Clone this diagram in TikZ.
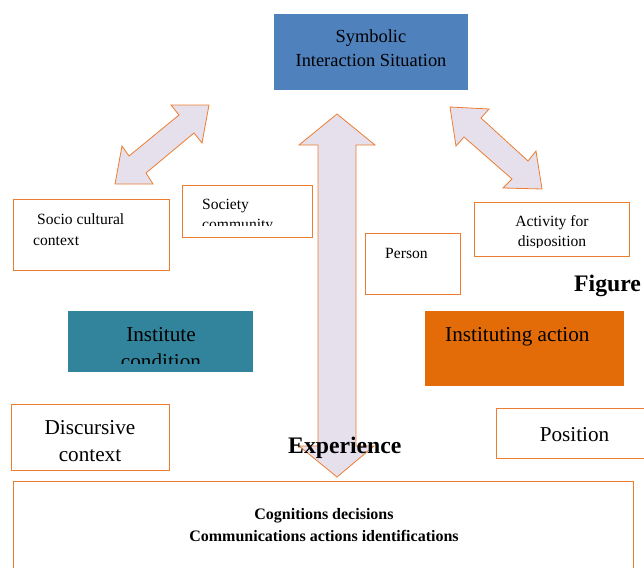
\documentclass[tikz,border=0pt]{standalone}
\usepackage{fontspec}
\setmainfont{Liberation Serif}
\definecolor{orl}{HTML}{ED7D31}
\definecolor{lav}{HTML}{E5E0EC}
\definecolor{sblue}{HTML}{4F81BD}
\definecolor{tealb}{HTML}{31849B}
\definecolor{oranb}{HTML}{E36C09}
\begin{document}
\begin{tikzpicture}[x=1pt,y=-1pt,
  obox/.style={draw=orl,line width=0.8pt,fill=white,inner sep=0pt,anchor=north west},
  fbox/.style={inner sep=0pt,anchor=north west},
  blockarrow/.style={draw=orl,line width=0.8pt,fill=lav,line join=miter},
  smalltxt/.style={font=\fontsize{15.6}{20}\selectfont,inner sep=0pt},
  midtxt/.style={font=\fontsize{18.4}{24}\selectfont,inner sep=0pt},
  bigtxt/.style={font=\fontsize{21.2}{27}\selectfont,inner sep=0pt},
  boldtxt/.style={font=\bfseries\fontsize{16}{22}\selectfont,inner sep=0pt},
  headtxt/.style={font=\bfseries\fontsize{23.7}{28}\selectfont,inner sep=0pt}]
\useasboundingbox (0,0) rectangle (644,567);
\begin{scope}
\clip (0,0) rectangle (644,567);
% block arrows
\draw[blockarrow] (209,105) -- (171,105) -- (179,115) -- (129,156) -- (122,146) -- (115,184) -- (153,184) -- (146,173) -- (194,133) -- (202,143) -- cycle;
\draw[blockarrow] (450,107) -- (489,109) -- (481,118) -- (528,161) -- (536,151) -- (542,189) -- (503,188) -- (512,179) -- (464,137) -- (456,146) -- cycle;
\draw[blockarrow] (337,114) -- (375,145) -- (356,145) -- (356,446) -- (374,446) -- (337,477) -- (299,446) -- (318,446) -- (318,145) -- (299,145) -- cycle;

% Symbolic Interaction Situation
\node[fbox,fill=sblue,minimum width=194pt,minimum height=76pt] (sym) at (274,14) {};
\node[midtxt,anchor=base] (sym1) at (371,43) {Symbolic};
\node[midtxt,anchor=base] (sym2) at (371,67) {Interaction Situation};

% Socio cultural context
\node[obox,minimum width=156pt,minimum height=71pt] (socio) at (13,199) {};
\node[smalltxt,anchor=base west] (socio1) at (37,224) {Socio cultural};
\node[smalltxt,anchor=base west] (socio2) at (33,245) {context};

% Society community
\node[obox,minimum width=130pt,minimum height=52pt] (soc) at (182,185) {};
\node[smalltxt,anchor=base west] (soc1) at (202,209) {Society};
\begin{scope}
\clip (183,186) rectangle (311,225);
\node[smalltxt,anchor=base west] (soc2) at (202,229.5) {community};
\end{scope}

% Person
\node[obox,minimum width=95pt,minimum height=61pt] (pers) at (365,233) {};
\node[smalltxt,anchor=base west] (pers1) at (385,258) {Person};

% Activity for disposition
\node[obox,minimum width=155pt,minimum height=54pt] (act) at (474,202) {};
\node[smalltxt,anchor=base] (act1) at (552,226) {Activity for};
\begin{scope}
\clip (475,203) rectangle (628,247);
\node[smalltxt,anchor=base] (act2) at (552,246.5) {disposition};
\end{scope}

% Figure
\node[headtxt,anchor=base west] (fig) at (574,291) {Figure};

% Institute condition
\node[fbox,fill=tealb,minimum width=185pt,minimum height=61pt] (inst) at (68,311) {};
\node[bigtxt,anchor=base] (inst1) at (161,341) {Institute};
\begin{scope}
\clip (68,311) rectangle (253,363);
\node[bigtxt,anchor=base] (inst2) at (161,368) {condition};
\end{scope}

% Instituting action
\node[fbox,fill=oranb,minimum width=199pt,minimum height=75pt] (act3) at (425,311) {};
\node[bigtxt,anchor=base west] (act4) at (445,341) {Instituting action};

% Discursive context
\node[obox,minimum width=158pt,minimum height=66pt] (disc) at (11,404) {};
\node[bigtxt,anchor=base] (disc1) at (90,434) {Discursive};
\node[bigtxt,anchor=base] (disc2) at (90,461) {context};

% Position
\node[obox,minimum width=160pt,minimum height=50pt] (pos) at (496,407.5) {};
\node[bigtxt,anchor=base] (pos1) at (574.5,441) {Position};

% Experience
\node[headtxt,anchor=base west] (exp) at (288,453) {Experience};

% bottom box
\node[obox,minimum width=620pt,minimum height=100pt] (bot) at (13,481) {};
\node[boldtxt,anchor=base] (bot1) at (324,519) {Cognitions decisions};
\node[boldtxt,anchor=base] (bot2) at (324,541) {Communications actions identifications};
\end{scope}
\end{tikzpicture}
\end{document}
